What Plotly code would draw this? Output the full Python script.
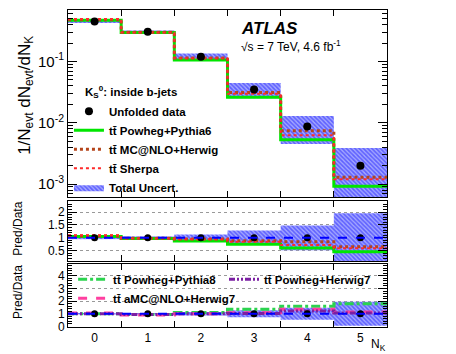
import plotly.graph_objects as go

# bin centres of the K0s multiplicity
n_k = [0, 1, 2, 3, 4, 5]
edges = [-0.5, 0.5, 1.5, 2.5, 3.5, 4.5, 5.5]

# unfolded data, 1/N dN/dN_K
data = [0.45, 0.305, 0.12, 0.035, 0.0087, 0.0020]
# total relative uncertainty
rel_unc = [0.06, 0.05, 0.13, 0.28, 0.48, 0.95]

# prediction / data, upper ratio panel
r_powheg_py6 = [1.05, 0.97, 0.88, 0.75, 0.61, 0.46]
r_mcnlo_hw = [1.07, 0.98, 0.95, 0.89, 0.85, 0.65]
r_sherpa = [1.10, 0.97, 0.94, 0.85, 0.72, 0.60]

# prediction / data, lower ratio panel
r_powheg_py8 = [1.00, 0.95, 1.10, 1.35, 1.60, 1.80]
r_amcnlo_hw7 = [1.05, 0.90, 1.00, 1.07, 1.35, 1.13]
r_powheg_hw7 = [1.00, 0.95, 1.00, 1.03, 1.22, 1.05]

FONT = "Liberation Sans"
BAND_PATTERN = dict(shape="\\", fgcolor="#1a1aff", bgcolor="#a4a8ff", size=3, solidity=0.55)


def step(vals):
    # histogram outline over the bin edges
    return edges, list(vals) + [vals[-1]]


def band_path(lo, hi):
    xs, ys = [], []
    for i in range(len(lo)):
        xs += [edges[i], edges[i + 1]]
        ys += [hi[i], hi[i]]
    for i in reversed(range(len(lo))):
        xs += [edges[i + 1], edges[i]]
        ys += [lo[i], lo[i]]
    return xs, ys


def add_band(fig, lo, hi, xa, ya, show=False):
    xs, ys = band_path(lo, hi)
    fig.add_trace(go.Scatter(
        x=xs, y=ys, fill="toself", mode="lines", line=dict(width=0),
        fillcolor="rgba(0,0,0,0)", fillpattern=BAND_PATTERN,
        name="<b>Total Uncert.</b>", showlegend=show, legendrank=5,
        xaxis=xa, yaxis=ya, hoverinfo="skip"))


def add_step(fig, vals, name, color, dash, width, xa, ya, legend=None, rank=None):
    x, y = step(vals)
    fig.add_trace(go.Scatter(
        x=x, y=y, mode="lines", line=dict(color=color, dash=dash, width=width, shape="hv"),
        name=name, showlegend=legend is not None, legend=legend or "legend",
        legendrank=rank or 1000, xaxis=xa, yaxis=ya))


fig = go.Figure()

# ---- top panel: distribution
lo = [d * (1 - e) for d, e in zip(data, rel_unc)]
hi = [d * (1 + e) for d, e in zip(data, rel_unc)]
add_band(fig, lo, hi, "x", "y", show=True)

preds = [
    (r_powheg_py6, "<b>tt̄ Powheg+Pythia6</b>", "#00e600", "solid", 3),
    (r_mcnlo_hw, "<b>tt̄ MC@NLO+Herwig</b>", "#b5451b", "dot", 3),
    (r_sherpa, "<b>tt̄ Sherpa</b>", "#ff2a2a", "dot", 2),
]
for k, (r, name, col, dash, w) in enumerate(preds):
    add_step(fig, [d * v for d, v in zip(data, r)], name, col, dash, w, "x", "y",
             legend="legend", rank=2 + k)

fig.add_trace(go.Scatter(
    x=n_k, y=data, mode="markers", marker=dict(color="black", size=8),
    name="<b>Unfolded data</b>", legendrank=1, xaxis="x", yaxis="y"))

# ---- middle panel: ratios
add_band(fig, [1 - e for e in rel_unc], [1 + e for e in rel_unc], "x2", "y2")
for r, name, col, dash, w in preds:
    add_step(fig, r, name, col, dash, w, "x2", "y2")
fig.add_trace(go.Scatter(x=n_k, y=[d / d for d in data], mode="markers",
                         marker=dict(color="black", size=7), showlegend=False,
                         xaxis="x2", yaxis="y2"))

# ---- bottom panel: newer generators
add_band(fig, [1 - e for e in rel_unc], [1 + e for e in rel_unc], "x3", "y3")
add_step(fig, r_powheg_py8, "<b>tt̄ Powheg+Pythia8</b>", "#2bd34e", "dashdot", 3,
         "x3", "y3", legend="legend2", rank=1)
add_step(fig, r_amcnlo_hw7, "<b>tt̄ aMC@NLO+Herwig7</b>", "#ff3fa0", "dash", 3,
         "x3", "y3", legend="legend2", rank=2)
add_step(fig, r_powheg_hw7, "<b>tt̄ Powheg+Herwig7</b>", "#7b1fa2",
         "6px,2px,2px,2px,2px,2px", 3, "x3", "y3", legend="legend3", rank=1)
fig.add_trace(go.Scatter(x=n_k, y=[d / d for d in data], mode="markers",
                         marker=dict(color="black", size=7), showlegend=False,
                         xaxis="x3", yaxis="y3"))

# unity lines in the ratio panels
for ya in ["y2", "y3"]:
    fig.add_shape(type="line", xref="paper", yref=ya, x0=0, x1=1, y0=1, y1=1,
                  line=dict(color="#0000ff", width=2, dash="dash"))
# legend box of the lower panel hides the grid behind it
fig.add_shape(type="rect", xref="paper", yref="paper", x0=0.008, x1=0.955,
              y0=0.095, y1=0.197, layer="between", fillcolor="white", line=dict(width=0))

xcommon = dict(range=[-0.5, 5.5], showline=True, linecolor="black", linewidth=1,
               mirror="allticks", tickvals=n_k, ticks="", showgrid=False, zeroline=False,
               automargin=False,
               minor=dict(tickvals=[0.5, 1.5, 2.5, 3.5, 4.5], ticks="inside",
                          ticklen=6, tickcolor="black"),
               tickfont=dict(family=FONT, size=12, color="black"))
ycommon = dict(showline=True, linecolor="black", linewidth=1, mirror="allticks",
               ticks="inside", ticklen=9, tickcolor="black", zeroline=False,
               automargin=False,
               tickfont=dict(family=FONT, size=12, color="black"))

# the page body adds an 8px margin, so the figure is drawn 8px smaller
fig.update_layout(
    width=448, height=346,
    margin=dict(l=60, r=69, t=2, b=27),
    plot_bgcolor="white", paper_bgcolor="white",
    font=dict(family=FONT, color="black"),
    xaxis=dict(xcommon, anchor="y", showticklabels=False),
    xaxis2=dict(xcommon, anchor="y2", showticklabels=False),
    xaxis3=dict(xcommon, anchor="y3"),
    yaxis=dict(ycommon, type="log", domain=[0.41, 1.0], range=[-3.21, -0.16],
               tickvals=[1e-3, 1e-2, 1e-1],
               ticktext=["10<sup>-3</sup>", "10<sup>-2</sup>", "10<sup>-1</sup>"],
               tickfont=dict(family=FONT, size=15, color="black"),
               showgrid=False,
               minor=dict(ticks="inside", ticklen=5, tickcolor="black", dtick="D1", showgrid=False)),
    yaxis2=dict(ycommon, domain=[0.208, 0.397], range=[0.1, 2.42],
                tickvals=[0.5, 1, 1.5, 2], ticktext=["0.5", "1", "1.5", "2"],
                showgrid=True, gridcolor="#999999", griddash="dot", gridwidth=1,
                minor=dict(ticks="inside", ticklen=4, tickcolor="black", dtick=0.1)),
    yaxis3=dict(ycommon, domain=[0.0, 0.199], range=[-0.05, 4.95],
                tickvals=[0, 1, 2, 3, 4], ticktext=["0", "1", "2", "3", "4"],
                showgrid=True, gridcolor="#999999", griddash="dot", gridwidth=1,
                minor=dict(ticks="inside", ticklen=4, tickcolor="black", dtick=0.2)),
    legend=dict(x=0.003, y=0.726, xanchor="left", yanchor="top",
                bgcolor="rgba(0,0,0,0)", tracegroupgap=0, itemwidth=30,
                font=dict(family=FONT, size=11.5, color="black")),
    legend2=dict(x=0.016, y=0.196, xanchor="left", yanchor="top", bgcolor="rgba(0,0,0,0)",
                 tracegroupgap=0, itemwidth=30,
                 font=dict(family=FONT, size=11.5, color="black")),
    legend3=dict(x=0.489, y=0.196, xanchor="left", yanchor="top", bgcolor="rgba(0,0,0,0)",
                 tracegroupgap=0, itemwidth=30,
                 font=dict(family=FONT, size=11.5, color="black")),
)

fig.add_annotation(text="<b>K<sub>S</sub><sup>0</sup>: inside b-jets</b>", x=0.047, y=0.741,
                   xref="paper", yref="paper", xanchor="left", yanchor="middle",
                   showarrow=False, font=dict(family=FONT, size=11.5))
fig.add_annotation(text="<b><i>ATLAS</i></b>", x=0.536, y=0.943, xref="paper", yref="paper",
                   xanchor="left", yanchor="middle", showarrow=False,
                   font=dict(family=FONT, size=17))
fig.add_annotation(text="√s = 7 TeV, 4.6 fb<sup>-1</sup>", x=0.536, y=0.886,
                   xref="paper", yref="paper", xanchor="left", yanchor="middle",
                   showarrow=False, font=dict(family=FONT, size=12))
fig.add_annotation(text="1/N<sub>evt</sub> dN<sub>evt</sub>/dN<sub>K</sub>", x=-0.132, y=0.732,
                   xref="paper", yref="paper", xanchor="center", yanchor="middle",
                   textangle=-90, showarrow=False, font=dict(family=FONT, size=17))
for yy in [0.31, 0.11]:
    fig.add_annotation(text="Pred/Data", x=-0.157, y=yy, xref="paper", yref="paper",
                       xanchor="center", yanchor="middle",
                       textangle=-90, showarrow=False, font=dict(family=FONT, size=12))
fig.add_annotation(text="N<sub>K</sub>", x=0.972, y=-0.056, xref="paper", yref="paper",
                   xanchor="center", yanchor="middle",
                   showarrow=False, font=dict(family=FONT, size=12))

fig.write_html("out.html")
